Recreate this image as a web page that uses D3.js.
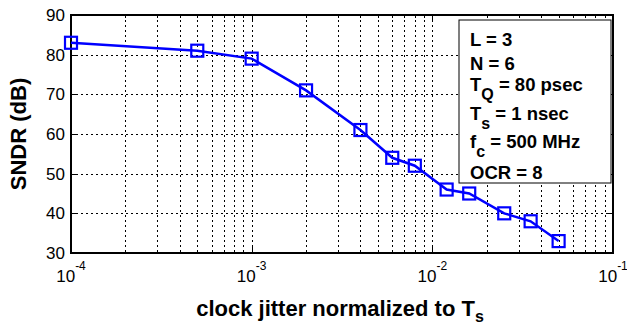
<!DOCTYPE html>
<html>
<head>
<meta charset="utf-8">
<script src="https://cdn.jsdelivr.net/npm/d3@7"></script>
<style>
  html, body { margin: 0; padding: 0; background: #fff; }
  svg { display: block; font-family: "Liberation Sans", Arial, Helvetica, sans-serif; }
</style>
</head>
<body>
<svg id="chart" width="627" height="327"></svg>
<script>
// Normalized clock jitter (fraction of Ts) and resulting SNDR in dB
const jitter = [1e-4, 5e-4, 1e-3, 2e-3, 4e-3, 6e-3, 8e-3, 0.012, 0.016, 0.025, 0.035, 0.05];
const sndr   = [83, 81, 79, 71, 61, 54, 52, 46, 45, 40, 38, 33];

const xDecades = [-4, -3, -2, -1];
const yTicks = [30, 40, 50, 60, 70, 80, 90];

// Simulation parameters listed in the annotation box: [main, subscript, rest]
const params = [
  ["L", "", " = 3"],
  ["N", "", " = 6"],
  ["T", "Q", " = 80 psec"],
  ["T", "s", " = 1 nsec"],
  ["f", "c", " = 500 MHz"],
  ["OCR", "", " = 8"]
];

const svg = d3.select("#chart");
const pL = 71, pR = 613, pT = 15, pB = 253;

const x = d3.scaleLog().domain([1e-4, 1e-1]).range([pL, pR]);
const y = d3.scaleLinear().domain([30, 90]).range([pB, pT]);

// Minor tick positions 2..9 within each decade
const minor = [];
for (let e = -4; e < -1; e++) for (let m = 2; m <= 9; m++) minor.push(m * Math.pow(10, e));
const major = xDecades.map(e => Math.pow(10, e));

// Dotted grid
const grid = svg.append("g").attr("stroke", "#000").attr("stroke-width", 1)
  .attr("stroke-dasharray", "2,3").attr("shape-rendering", "crispEdges");
major.concat(minor).forEach(v => {
  const px = Math.round(x(v)) + 0.5;
  if (px > pL + 1 && px < pR - 1)
    grid.append("line").attr("x1", px).attr("x2", px).attr("y1", pT).attr("y2", pB);
});
yTicks.forEach(v => {
  const py = Math.round(y(v)) + 0.5;
  if (py > pT + 1 && py < pB - 1)
    grid.append("line").attr("x1", pL).attr("x2", pR).attr("y1", py).attr("y2", py);
});

// Tick marks pointing inward on all four sides
const ticks = svg.append("g").attr("stroke", "#000").attr("stroke-width", 1).attr("shape-rendering", "crispEdges");
major.forEach(v => {
  const px = Math.round(x(v)) + 0.5;
  ticks.append("line").attr("x1", px).attr("x2", px).attr("y1", pB).attr("y2", pB - 6);
  ticks.append("line").attr("x1", px).attr("x2", px).attr("y1", pT).attr("y2", pT + 6);
});
minor.forEach(v => {
  const px = Math.round(x(v)) + 0.5;
  ticks.append("line").attr("x1", px).attr("x2", px).attr("y1", pB).attr("y2", pB - 3);
  ticks.append("line").attr("x1", px).attr("x2", px).attr("y1", pT).attr("y2", pT + 3);
});
yTicks.forEach(v => {
  const py = Math.round(y(v)) + 0.5;
  ticks.append("line").attr("x1", pL).attr("x2", pL + 6).attr("y1", py).attr("y2", py);
  ticks.append("line").attr("x1", pR).attr("x2", pR - 6).attr("y1", py).attr("y2", py);
});

// Axis box
svg.append("rect").attr("x", pL).attr("y", pT).attr("width", pR - pL).attr("height", pB - pT)
  .attr("fill", "none").attr("stroke", "#000").attr("stroke-width", 2);

// Y tick labels
svg.append("g").selectAll("text").data(yTicks).join("text")
  .attr("x", pL - 6).attr("y", d => y(d)).attr("dy", "0.35em")
  .attr("text-anchor", "end").attr("font-size", 17).attr("fill", "#000")
  .text(d => d);

// X tick labels as powers of ten
const xl = svg.append("g");
xDecades.forEach(e => {
  const t = xl.append("text").attr("x", x(Math.pow(10, e))).attr("y", 282)
    .attr("text-anchor", "middle").attr("font-size", 17).attr("fill", "#000");
  t.append("tspan").text("10");
  t.append("tspan").attr("font-size", 12).attr("dy", -12).text(e);
});

// Data line and square markers
svg.append("path").datum(jitter.map((j, i) => [j, sndr[i]]))
  .attr("fill", "none").attr("stroke", "#0000ff").attr("stroke-width", 2.5)
  .attr("d", d3.line().x(d => x(d[0])).y(d => y(d[1])));
const ms = 12;
svg.append("g").selectAll("rect").data(jitter).join("rect")
  .attr("x", d => x(d) - ms / 2).attr("y", (d, i) => y(sndr[i]) - ms / 2)
  .attr("width", ms).attr("height", ms)
  .attr("fill", "none").attr("stroke", "#0000ff").attr("stroke-width", 2.2);

// Annotation box
const bx = 459, by = 20, bw = 152, bh = 163;
svg.append("rect").attr("x", bx).attr("y", by).attr("width", bw).attr("height", bh)
  .attr("fill", "#fff").attr("stroke", "#000").attr("stroke-width", 1);
const baselines = [46, 70, 91, 120, 148, 179];
params.forEach((p, i) => {
  const t = svg.append("text").attr("x", 470).attr("y", baselines[i])
    .attr("font-size", 18.5).attr("font-weight", "bold").attr("fill", "#000");
  t.append("tspan").text(p[0]);
  if (p[1]) {
    t.append("tspan").attr("font-size", 16).attr("dy", 9).text(p[1]);
    t.append("tspan").attr("dy", -9).text(p[2]);
  } else {
    t.append("tspan").text(p[2]);
  }
});

// Axis titles
const xt = svg.append("text").attr("x", 340).attr("y", 316)
  .attr("text-anchor", "middle").attr("font-size", 22).attr("font-weight", "bold").attr("fill", "#000");
xt.append("tspan").text("clock jitter normalized to T");
xt.append("tspan").attr("font-size", 16).attr("dy", 6).text("s");

svg.append("text").attr("transform", `translate(26,${(pT + pB) / 2}) rotate(-90)`)
  .attr("text-anchor", "middle").attr("font-size", 22).attr("font-weight", "bold").attr("fill", "#000")
  .text("SNDR (dB)");
</script>
</body>
</html>
